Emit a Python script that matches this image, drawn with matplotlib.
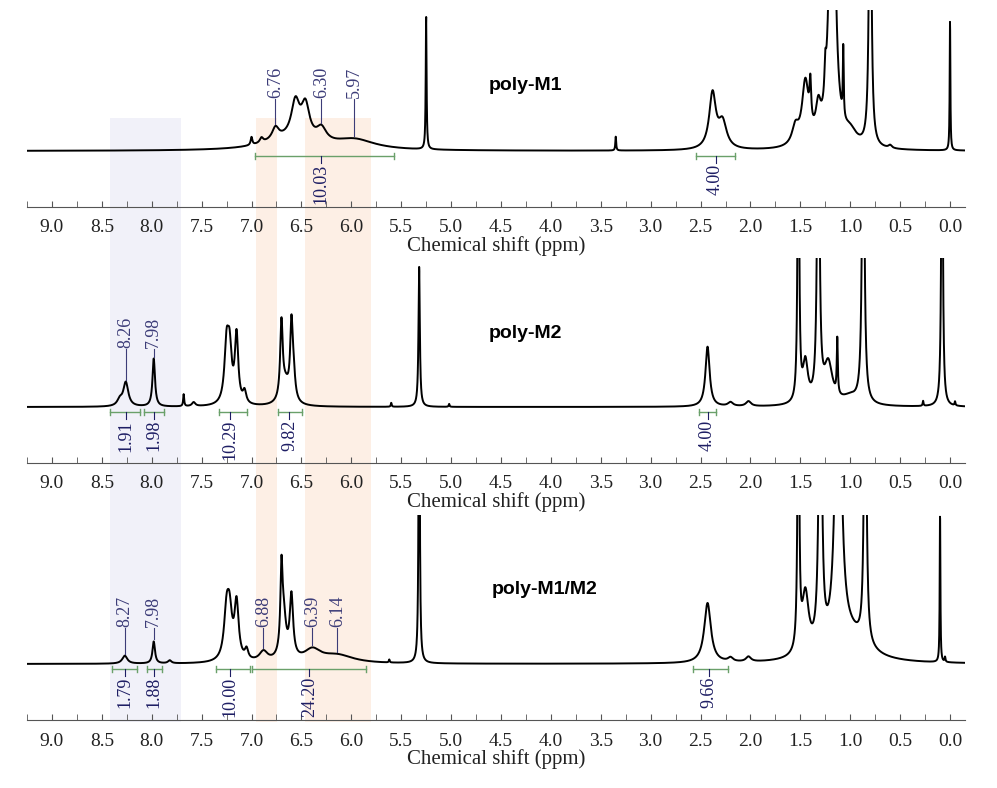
import numpy as np
import matplotlib.pyplot as plt
from matplotlib.ticker import MultipleLocator

# peak tables: centre (ppm), height (px above baseline), half-width (ppm)
m1_ppm = [7.00, 6.90, 6.76, 6.65, 6.56, 6.46, 6.30, 5.97, 5.25, 3.35, 2.38, 2.28,
          1.55, 1.45, 1.40, 1.32, 1.25, 1.18, 1.07, 1.00, 0.80, 0.60, 0.00]
m1_h = [8, 5, 12, 10, 36, 34, 14, 10, 133, 14, 55, 26,
        18, 62, 40, 30, 30, 400, 70, 14, 400, 3, 130]
m1_w = [0.01, 0.02, 0.04, 0.30, 0.05, 0.05, 0.06, 0.25, 0.005, 0.005, 0.04, 0.05,
        0.04, 0.04, 0.01, 0.03, 0.01, 0.03, 0.005, 0.08, 0.012, 0.02, 0.004]

m2_ppm = [8.32, 8.26, 7.98, 7.68, 7.58, 7.25, 7.22, 7.15, 7.07, 6.70, 6.66, 6.60, 6.58,
          5.32, 5.60, 5.02, 2.43, 2.20, 2.02, 1.52, 1.45, 1.32, 1.22, 1.13, 1.00,
          0.87, 0.27, 0.08, -0.05]
m2_h = [6, 24, 48, 12, 4, 55, 50, 68, 12, 75, 20, 70, 25,
        140, 4, 3, 60, 4, 5, 400, 40, 400, 40, 55, 8,
        400, 5, 400, 4]
m2_w = [0.03, 0.03, 0.015, 0.006, 0.02, 0.025, 0.025, 0.02, 0.02, 0.015, 0.05, 0.015, 0.02,
        0.008, 0.005, 0.005, 0.025, 0.03, 0.03, 0.008, 0.03, 0.012, 0.05, 0.006, 0.1,
        0.012, 0.005, 0.008, 0.005]

m3_ppm = [8.27, 7.98, 7.82, 7.25, 7.22, 7.15, 7.05, 6.88, 6.70, 6.68, 6.60, 6.39, 6.14,
          5.32, 5.62, 2.43, 2.20, 2.02, 1.52, 1.45, 1.30, 1.12, 1.00, 0.85, 0.10, 0.05]
m3_h = [8, 22, 3, 45, 42, 56, 10, 10, 72, 45, 62, 12, 8,
        400, 3, 60, 4, 5, 400, 60, 400, 400, 25, 400, 150, 5]
m3_w = [0.03, 0.015, 0.02, 0.03, 0.03, 0.025, 0.02, 0.05, 0.012, 0.03, 0.02, 0.1, 0.2,
        0.006, 0.005, 0.04, 0.03, 0.03, 0.008, 0.04, 0.015, 0.03, 0.2, 0.012, 0.004, 0.005]

# peak labels and integrals
m1_labels = ["6.76", "6.30", "5.97"]
m2_labels = ["8.26", "7.98"]
m3_labels = ["8.27", "7.98", "6.88", "6.39", "6.14"]

m1_int = [(6.97, 5.57, 6.30, "10.03"), (2.55, 2.15, 2.35, "4.00")]
m2_int = [(8.42, 8.12, 8.26, "1.91"), (8.08, 7.88, 7.98, "1.98"), (7.33, 7.05, 7.22, "10.29"),
          (6.73, 6.49, 6.62, "9.82"), (2.52, 2.35, 2.43, "4.00")]
m3_int = [(8.40, 8.15, 8.27, "1.79"), (8.05, 7.90, 7.98, "1.88"), (7.36, 7.02, 7.22, "10.00"),
          (7.00, 5.85, 6.42, "24.20"), (2.58, 2.23, 2.42, "9.66")]

titles = ["poly-M1", "poly-M2", "poly-M1/M2"]

W, H = 997, 788
XL, XR = 9.25, -0.15
LBL_COL = '#3c3c78'
INT_COL = '#1e1e64'
BAR_COL = '#6aa06a'


def spectrum(x, ppm, h, w):
    y = np.zeros_like(x)
    for c, a, g in zip(ppm, h, w):
        y += a * g**2 / ((x - c)**2 + g**2)
    return y


fig = plt.figure(figsize=(W / 100, H / 100), dpi=100)

# background shading spanning the three panels
bg = fig.add_axes([27 / W, 0, 938 / W, 1], zorder=0)
bg.set_xlim(XL, XR)
bg.set_ylim(H, 0)
bg.axis('off')
bg.fill_between([8.42, 7.71], 118, 722, color='#f1f1f9', lw=0)
bg.fill_between([6.96, 6.74], 118, 722, color='#fdefe5', lw=0)
bg.fill_between([6.46, 5.80], 118, 722, color='#fdefe5', lw=0)

# panel: (top px, spine px)
panels = [(10, 207), (258, 463), (515, 720)]
data = [(m1_ppm, m1_h, m1_w, m1_labels, m1_int, 52, (525, 85)),
        (m2_ppm, m2_h, m2_w, m2_labels, m2_int, 58, (525, 333)),
        (m3_ppm, m3_h, m3_w, m3_labels, m3_int, 36, (545, 590))]

x = np.linspace(XL, XR, 6000)
for (top, spine), (ppm, hh, ww, labs, ints, lbase, tpos), title in zip(panels, data, titles):
    ax = fig.add_axes([27 / W, (H - spine) / H, 938 / W, (spine - top) / H], zorder=1)
    ax.patch.set_alpha(0)
    y = spectrum(x, ppm, hh, ww)
    ax.plot(x, y, color='k', lw=1.4)
    ax.set_xlim(XL, XR)
    ax.set_ylim(-56, spine - top - 56)
    for s in ['top', 'left', 'right']:
        ax.spines[s].set_visible(False)
    ax.spines['bottom'].set_color('#555555')
    ax.set_yticks([])
    ax.xaxis.set_major_locator(MultipleLocator(0.5))
    ax.xaxis.set_minor_locator(MultipleLocator(0.25))
    ax.tick_params(axis='x', which='both', direction='in', length=4, color='#555555',
                   labelsize=14, pad=9, labelcolor='#222222')
    ax.set_xticks(np.arange(0, 9.01, 0.5))
    ax.set_xticklabels([f"{v:.1f}" for v in np.arange(0, 9.01, 0.5)], fontfamily='Liberation Serif')
    ax.set_xlabel("Chemical shift (ppm)", fontfamily='Liberation Serif', fontsize=15, labelpad=0,
                  color='#222222')

    # peak labels
    for lab in labs:
        p = float(lab)
        yc = spectrum(np.array([p]), ppm, hh, ww)[0]
        ax.plot([p, p], [min(yc + 2, lbase - 8), lbase], color=LBL_COL, lw=0.8)
        ax.text(p, lbase + 1, lab, rotation=90, ha='center', va='bottom', color=LBL_COL,
                fontsize=13, fontfamily='Liberation Serif')

    # integrals
    for a, b, c, lab in ints:
        ax.plot([a, b], [-5, -5], color=BAR_COL, lw=1)
        for e in (a, b):
            ax.plot([e, e], [-8, -2], color=BAR_COL, lw=1)
        ax.plot([c, c], [-5, -12], color=INT_COL, lw=0.8)
        ax.text(c, -13, lab, rotation=90, ha='center', va='top', color=INT_COL,
                fontsize=13, fontfamily='Liberation Serif')

    fig.text(tpos[0] / W, 1 - tpos[1] / H, title, ha='center', va='center',
             fontsize=14, fontweight='bold', fontfamily='Liberation Sans', zorder=3)

fig.savefig('out.png', dpi=100)
